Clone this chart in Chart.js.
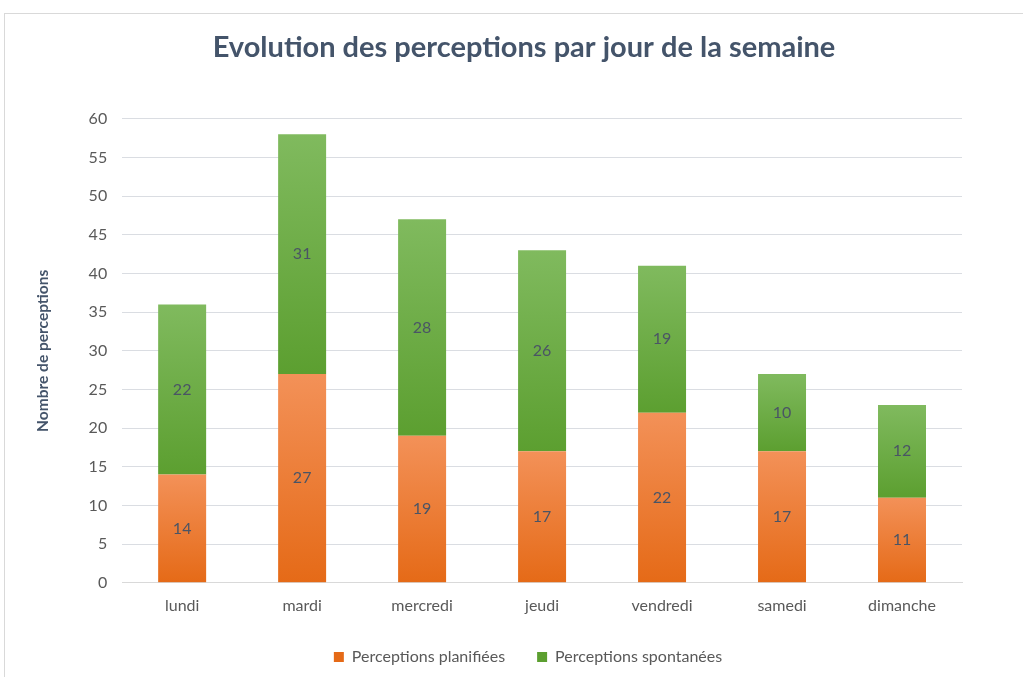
<!DOCTYPE html>
<html lang="fr">
<head>
  <meta charset="UTF-8">
  <title>Evolution des perceptions</title>
  <script src="https://cdn.jsdelivr.net/npm/chart.js"></script>
  <style>
    html, body { margin: 0; padding: 0; background: #fff; overflow: hidden; }
    .frame { position: absolute; left: 4px; top: 13px; width: 1040px; height: 700px; border: 1px solid #d9d9d9; }
    .wrap { position: absolute; left: 0; top: 0; width: 1023px; height: 677px; }
  </style>
</head>
<body>
  <div class="frame"></div>
  <div class="wrap"><canvas id="chart" width="1023" height="677"></canvas></div>

  <script>
    const jours = ["lundi", "mardi", "mercredi", "jeudi", "vendredi", "samedi", "dimanche"];
    const planifiees = [14, 27, 19, 17, 22, 17, 11];
    const spontanees = [22, 31, 28, 26, 19, 10, 12];
    const serieNoms = ["Perceptions planifiées", "Perceptions spontanées"];

    const textGrey = "#595959";
    const titleColor = "#44546A";

    // degrade vertical par segment, comme dans Excel
    function segGradient(ctx, top, bottom, light, dark) {
      const chart = ctx.chart;
      const y = chart.scales.y;
      if (!y || !chart.chartArea) return dark;
      const y0 = y.getPixelForValue(top);
      const y1 = y.getPixelForValue(bottom);
      if (!isFinite(y0) || !isFinite(y1) || y0 === y1) return dark;
      const g = chart.ctx.createLinearGradient(0, y0, 0, y1);
      g.addColorStop(0, light);
      g.addColorStop(1, dark);
      return g;
    }

    const valueLabels = {
      id: "valueLabels",
      afterDatasetsDraw(chart) {
        const ctx = chart.ctx;
        ctx.save();
        ctx.font = "16px Lato";
        ctx.fillStyle = "#4a5465";
        ctx.textAlign = "center";
        ctx.textBaseline = "middle";
        chart.data.datasets.forEach((ds, i) => {
          chart.getDatasetMeta(i).data.forEach((bar, j) => {
            const p = bar.getProps(["x", "y", "base"], true);
            ctx.fillText(ds.data[j], p.x, (p.y + p.base) / 2);
          });
        });
        ctx.restore();
      }
    };

    // titre et legende Excel un peu decales par rapport au centrage Chart.js
    const shiftBlocks = {
      id: "shiftBlocks",
      afterLayout(chart) {
        const t = chart.titleBlock;
        if (t) { t.left += 26; t.right += 26; }
        const l = chart.legend;
        if (l) { l.left += 30; l.right += 30; l.top -= 11; l.bottom -= 11; }
      }
    };

    new Chart(document.getElementById("chart"), {
      type: "bar",
      data: {
        labels: jours,
        datasets: [{
          label: serieNoms[0],
          data: planifiees,
          backgroundColor: c => c.type === "data"
            ? segGradient(c, planifiees[c.dataIndex], 0, "#F39158", "#E56A17")
            : "#EE7A2E",
          barPercentage: 0.8,
          categoryPercentage: 0.5
        }, {
          label: serieNoms[1],
          data: spontanees,
          backgroundColor: c => c.type === "data"
            ? segGradient(c, planifiees[c.dataIndex] + spontanees[c.dataIndex], planifiees[c.dataIndex], "#80BA5E", "#5C9F30")
            : "#6DAE45",
          barPercentage: 0.8,
          categoryPercentage: 0.5
        }]
      },
      options: {
        responsive: false,
        animation: false,
        layout: { padding: { left: 34, right: 61, top: 30, bottom: -9 } },
        plugins: {
          title: {
            display: true,
            text: "Evolution des perceptions par jour de la semaine",
            color: titleColor,
            font: { family: "Lato", size: 29, weight: "bold" },
            padding: { top: 0, bottom: 54 }
          },
          legend: {
            position: "bottom",
            labels: {
              color: textGrey,
              font: { family: "Lato", size: 16 },
              boxWidth: 10,
              boxHeight: 10,
              padding: 32
            }
          },
          tooltip: { enabled: false }
        },
        scales: {
          x: {
            stacked: true,
            grid: { display: false, drawTicks: false },
            border: { color: "#d9d9d9" },
            ticks: { color: textGrey, font: { family: "Lato", size: 16 }, padding: 13 }
          },
          y: {
            stacked: true,
            min: 0,
            max: 60,
            ticks: { stepSize: 5, color: textGrey, font: { family: "Lato", size: 16 }, padding: 15 },
            grid: { color: "#dadde2", drawTicks: false },
            border: { display: false },
            title: {
              display: true,
              text: "Nombre de perceptions",
              color: titleColor,
              font: { family: "Lato", size: 15.5, weight: "bold" },
              padding: { top: 0, bottom: 21 }
            }
          }
        }
      },
      plugins: [valueLabels, shiftBlocks]
    });
  </script>
</body>
</html>
